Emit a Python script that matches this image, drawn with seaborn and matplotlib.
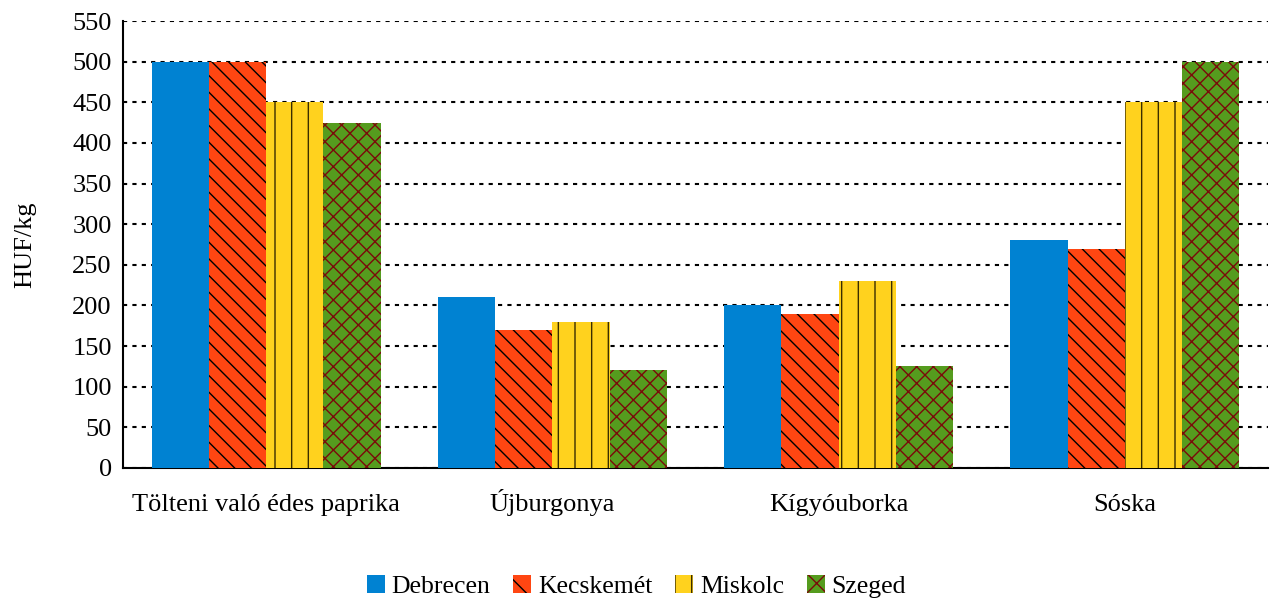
import pandas as pd
import numpy as np
import matplotlib.pyplot as plt
import seaborn as sns
from matplotlib.patches import Patch

products = ['Tölteni való édes paprika', 'Újburgonya', 'Kígyóuborka', 'Sóska']
cities = ['Debrecen', 'Kecskemét', 'Miskolc', 'Szeged']
debrecen = [500, 210, 200, 280]
kecskemet = [500, 170, 190, 270]
miskolc = [450, 180, 230, 450]
szeged = [425, 120, 125, 500]

colors = ['#0082D2', '#FF4612', '#FFD21E', '#559C1E']
hatches = ['', '\\\\', '|', 'xx']
hatch_colors = ['#0082D2', '#000000', '#3A2E00', '#7A0A0A']

df = pd.DataFrame({
    'product': np.repeat(products, 4),
    'city': cities * 4,
    'price': [v for row in zip(debrecen, kecskemet, miskolc, szeged) for v in row],
})

sns.set_style('white')
plt.rcParams['font.family'] = ['Liberation Serif', 'DejaVu Serif']
plt.rcParams['hatch.linewidth'] = 1.0
for k in ['text.color', 'axes.labelcolor', 'xtick.color', 'ytick.color']:
    plt.rcParams[k] = 'black'

fig = plt.figure(figsize=(12.73, 6), dpi=100)
ax = fig.add_axes([0.0966, 0.22, 0.8994, 0.745])

sns.barplot(data=df, x='product', y='price', hue='city', order=products,
            hue_order=cities, palette=colors, saturation=1, width=0.8,
            ax=ax, legend=False, zorder=3)

for cont, h, hc in zip(ax.containers, hatches, hatch_colors):
    for bar in cont:
        bar.set_hatch(h)
        bar.set_edgecolor(hc)
        bar.set_linewidth(0)

ax.set_xlim(-0.5, 3.5)
ax.set_ylim(0, 550)
ax.set_yticks(range(0, 551, 50))
ax.yaxis.grid(True, color='black', linestyle=(0, (2, 2.5)), linewidth=1.5, zorder=0)
ax.set_axisbelow(True)

ax.set_xticks(np.arange(-0.5, 4, 1))
ax.set_xticklabels([])
ax.set_xticks(range(4), minor=True)
ax.set_xticklabels(products, minor=True, va='baseline')
ax.tick_params(axis='x', which='major', direction='out', length=7, width=1.5)
ax.tick_params(axis='x', which='minor', length=0, pad=31, labelsize=19)
ax.tick_params(axis='y', direction='out', length=6, width=1.5, labelsize=19, pad=2)

for s in ['top', 'right']:
    ax.spines[s].set_visible(False)
for s in ['left', 'bottom']:
    ax.spines[s].set_color('black')
    ax.spines[s].set_linewidth(1.5)

ax.set_xlabel('')
ax.set_ylabel('HUF/kg', fontsize=19, labelpad=26)

handles = [Patch(facecolor=c, hatch=h[:1], edgecolor=hc, linewidth=0)
           for c, h, hc in zip(colors, hatches, hatch_colors)]
fig.legend(handles, cities, loc='lower center', bbox_to_anchor=(0.5, -0.035), ncol=4,
           frameon=False, fontsize=18.5, handlelength=0.7, handleheight=0.7,
           handletextpad=0.25, columnspacing=0.9)

fig.savefig('out.png', dpi=100)
